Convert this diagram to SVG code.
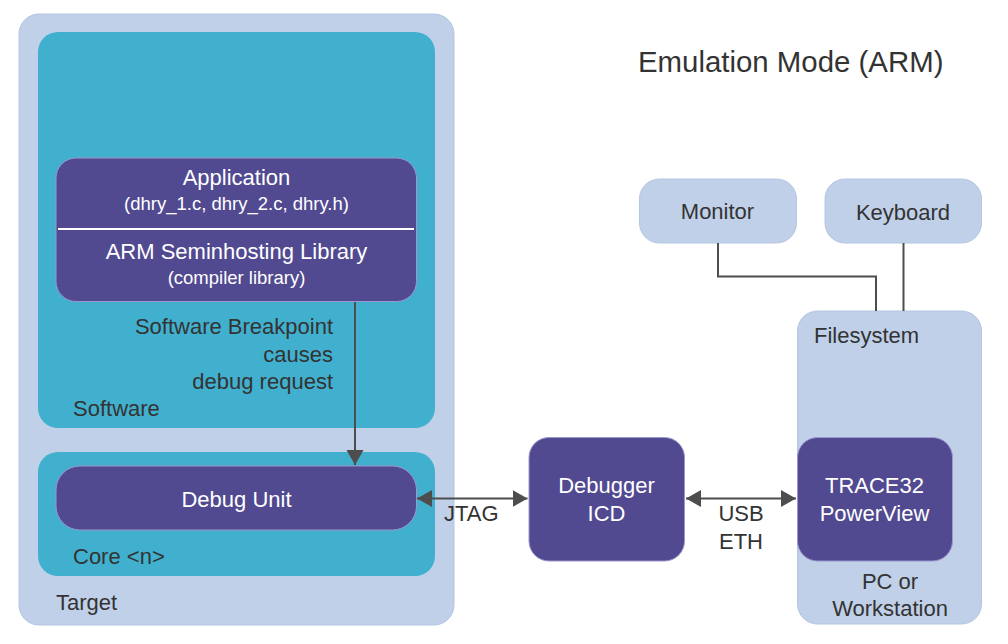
<svg xmlns="http://www.w3.org/2000/svg" width="1008" height="644" viewBox="0 0 1008 644">
<style>
text{font-family:"Liberation Sans",Arial,sans-serif;font-size:22px;fill:#333333}
.w{fill:#ffffff}
.s{font-size:18.5px}
.t{font-size:29.4px}
.light{fill:#BFD0E8;stroke:#B3C6E2;stroke-width:1}
.teal{fill:#41B0CF}
.purple{fill:#514A91;stroke:#9C97CC;stroke-width:1}
.conn{fill:none;stroke:#4D4D4D;stroke-width:2}
.mid{text-anchor:middle}
.end{text-anchor:end}
</style>
<defs>
<marker id="ah" markerUnits="userSpaceOnUse" markerWidth="16" markerHeight="18" refX="15" refY="9" orient="auto-start-reverse">
<path d="M0,0.5 L15,9 L0,17.5 Z" fill="#4D4D4D"/>
</marker>
</defs>
<rect width="1008" height="644" fill="#ffffff"/>
<text x="638" y="72" class="t">Emulation Mode (ARM)</text>

<g id="target">
<rect x="19" y="14" width="435" height="611" rx="20" class="light"/>
<text x="56" y="610">Target</text>
</g>
<g id="software">
<rect x="38" y="32" width="397" height="396" rx="20" class="teal"/>
<text x="73" y="416">Software</text>
</g>
<g id="application">
<rect x="56" y="158" width="360.5" height="143.5" rx="20" class="purple"/>
<line x1="58" y1="229" x2="414" y2="229" stroke="#ffffff" stroke-width="2"/>
<text x="236.5" y="185" class="w mid">Application</text>
<text x="236.5" y="210" class="w mid s">(dhry_1.c, dhry_2.c, dhry.h)</text>
<text x="236.5" y="259" class="w mid">ARM Seminhosting Library</text>
<text x="236.5" y="284" class="w mid s">(compiler library)</text>
</g>
<g id="core">
<rect x="38" y="452" width="397" height="124" rx="20" class="teal"/>
<text x="73" y="564">Core &lt;n&gt;</text>
</g>
<g id="debug-unit">
<rect x="56" y="466" width="360.5" height="64" rx="24" class="purple"/>
<text x="236.5" y="506.5" class="w mid">Debug Unit</text>
</g>
<g id="debugger-icd">
<rect x="529" y="437.5" width="155.5" height="123.5" rx="20" class="purple"/>
<text x="606.5" y="492.5" class="w mid">Debugger</text>
<text x="606.5" y="520.5" class="w mid">ICD</text>
</g>
<g id="monitor">
<rect x="639.5" y="179" width="157" height="64" rx="20" class="light"/>
<text x="717.5" y="219" class="mid">Monitor</text>
</g>
<g id="keyboard">
<rect x="825" y="179" width="156.5" height="64" rx="20" class="light"/>
<text x="903" y="220" class="mid">Keyboard</text>
</g>
<g id="pc">
<rect x="797.5" y="311" width="184" height="313" rx="20" class="light"/>
<text x="814" y="343">Filesystem</text>
<text x="890" y="588.5" class="mid">PC or</text>
<text x="890" y="615.5" class="mid">Workstation</text>
</g>
<g id="trace32">
<rect x="797.5" y="437.5" width="155" height="123.5" rx="20" class="purple"/>
<text x="874.5" y="492.5" class="w mid">TRACE32</text>
<text x="874.5" y="520.5" class="w mid">PowerView</text>
</g>

<g id="connectors">
<line x1="355" y1="302" x2="355" y2="465" class="conn" marker-end="url(#ah)"/>
<line x1="417" y1="498.5" x2="527.5" y2="498.5" class="conn" marker-start="url(#ah)" marker-end="url(#ah)"/>
<line x1="686" y1="498.5" x2="796" y2="498.5" class="conn" marker-start="url(#ah)" marker-end="url(#ah)"/>
<polyline points="718,243 718,276.5 876,276.5 876,311" class="conn"/>
<line x1="903.5" y1="243" x2="903.5" y2="311" class="conn"/>
<text x="333" y="334" class="end">Software Breakpoint</text>
<text x="333" y="361.5" class="end">causes</text>
<text x="333" y="388.5" class="end">debug request</text>
<text x="444" y="520.5">JTAG</text>
<text x="741" y="520.5" class="mid">USB</text>
<text x="741" y="548.5" class="mid">ETH</text>
</g>
</svg>
